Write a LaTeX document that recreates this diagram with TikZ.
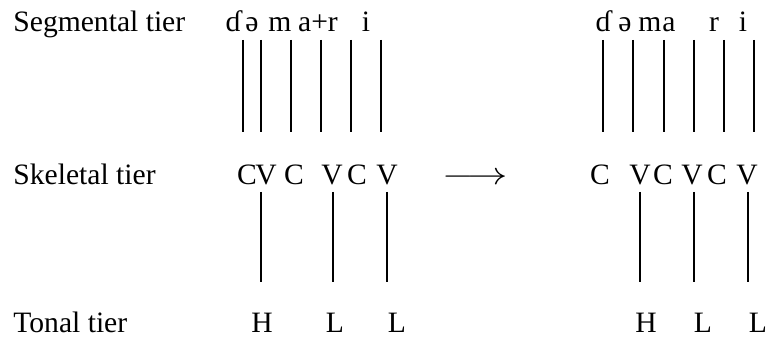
\documentclass[tikz,border=0pt]{standalone}
\usepackage{fontspec}
\setmainfont{Liberation Serif}
\usetikzlibrary{positioning}

\begin{document}
\begin{tikzpicture}[x=0.5pt, y=-0.5pt,
    every node/.style={inner sep=0pt, font=\fontsize{14.8}{18}\selectfont},
    tierlabel/.style={anchor=base west},
    seg/.style={anchor=base},
    assoc/.style={line width=0.9pt}]
  \useasboundingbox (0,0) rectangle (770,340);
  % Tier names
  \node[tierlabel] (segtier) at (13,32) {Segmental tier};
  \node[tierlabel] (skeltier) at (13,185) {Skeletal tier};
  \node[tierlabel] (tonetier) at (13,333) {Tonal tier};
  % Input form
  \node[seg] (ls1) at (233,32) {ɗ};
  \node[seg] (ls2) at (252,32) {ə};
  \node[seg] (ls3) at (280,32) {m};
  \node[seg] (ls4) at (318,32) {a+r};
  \node[seg] (ls5) at (366,32) {i};
  \foreach \x [count=\i] in {247,266,294,332,357,387}
    \node[seg] (lx\i) at (\x,185) {\ifodd\i C\else V\fi};
  \node[seg] (lt1) at (262,333) {H};
  \node[seg] (lt2) at (335,333) {L};
  \node[seg] (lt3) at (397,333) {L};
  \foreach \x [count=\i] in {243,261,291,321,351,381} {
    \coordinate (lu\i) at (\x,40);
    \coordinate (ld\i) at (\x,132);
    \draw[assoc] (lu\i) -- (ld\i);
  }
  \foreach \x [count=\i] in {261,333,387} {
    \coordinate (lv\i) at (\x,192);
    \coordinate (lh\i) at (\x,282);
    \draw[assoc] (lv\i) -- (lh\i);
  }
  % Rule arrow
  \node[seg] (rule) at (475,185) {\scalebox{1.4}[1.1]{$\longrightarrow$}};
  % Output form
  \node[seg] (rs1) at (603,32) {ɗ};
  \node[seg] (rs2) at (625,32) {ə};
  \node[seg] (rs3) at (650,32) {m};
  \node[seg] (rs4) at (669,32) {a};
  \node[seg] (rs5) at (714,32) {r};
  \node[seg] (rs6) at (743,32) {i};
  \foreach \x [count=\i] in {600,640,663,692,717,747}
    \node[seg] (rx\i) at (\x,185) {\ifodd\i C\else V\fi};
  \node[seg] (rt1) at (646,333) {H};
  \node[seg] (rt2) at (703,333) {L};
  \node[seg] (rt3) at (758,333) {L};
  \foreach \x [count=\i] in {603,633,664,694,724,754} {
    \coordinate (ru\i) at (\x,40);
    \coordinate (rd\i) at (\x,132);
    \draw[assoc] (ru\i) -- (rd\i);
  }
  \foreach \x [count=\i] in {640,694,748} {
    \coordinate (rv\i) at (\x,192);
    \coordinate (rh\i) at (\x,282);
    \draw[assoc] (rv\i) -- (rh\i);
  }
\end{tikzpicture}
\end{document}
